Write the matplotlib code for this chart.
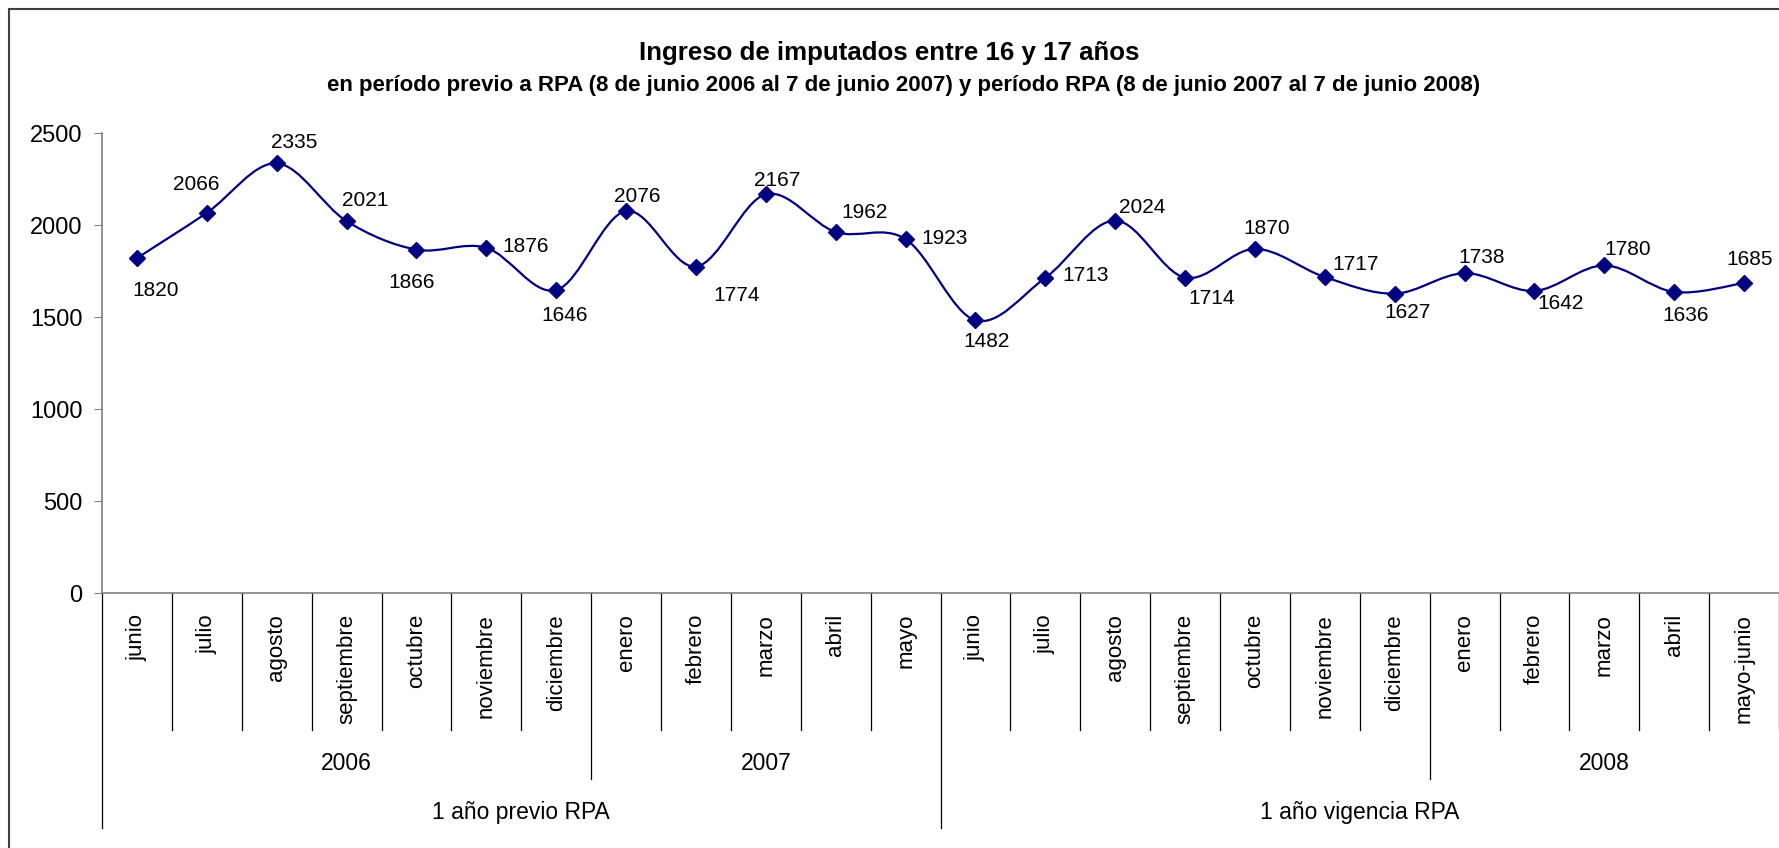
"""
Ingreso de imputados entre 16 y 17 años, previo RPA vs. vigencia RPA.
Line chart with Excel-style smoothing and a three-level category axis.
"""

import matplotlib
matplotlib.use("Agg")
import matplotlib.pyplot as plt
import matplotlib.transforms as mtransforms
from matplotlib.patches import PathPatch, Rectangle
from matplotlib.path import Path
import numpy as np

plt.rcParams["font.family"] = ["Liberation Sans", "DejaVu Sans"]

# --- data -------------------------------------------------------------------
months = [
    "junio", "julio", "agosto", "septiembre", "octubre", "noviembre",
    "diciembre", "enero", "febrero", "marzo", "abril", "mayo",
    "junio", "julio", "agosto", "septiembre", "octubre", "noviembre",
    "diciembre", "enero", "febrero", "marzo", "abril", "mayo-junio",
]
values = [
    1820, 2066, 2335, 2021, 1866, 1876, 1646, 2076, 1774, 2167, 1962, 1923,
    1482, 1713, 2024, 1714, 1870, 1717, 1627, 1738, 1642, 1780, 1636, 1685,
]
# year groups: (label, first index, end index); 2007 jun-dic has no label
year_groups = [("2006", 0, 7), ("2007", 7, 12), ("", 12, 19), ("2008", 19, 24)]
period_groups = [("1 año previo RPA", 0, 12), ("1 año vigencia RPA", 12, 24)]

# label offsets in pixels (dx right, dy up)
label_offsets = [
    (19, -32), (-11, 28), (17, 21), (19, 21), (-5, -33), (39, 1),
    (8, -25), (11, 15), (41, -29), (11, 14), (29, 19), (39, 1),
    (11, -21), (40, 2), (27, 13), (27, -21), (12, 20), (31, 13),
    (13, -19), (17, 16), (26, -13), (23, 16), (11, -24), (6, 23),
]

TITLE = "Ingreso de imputados entre 16 y 17 años"
SUBTITLE = ("en período previo a RPA (8 de junio 2006 al 7 de junio 2007) "
            "y período RPA (8 de junio 2007 al 7 de junio 2008)")

NAVY = "#000080"
GRAY = "#808080"


def smooth_path(x, y):
    """Catmull-Rom style Bezier segments, like Excel's smoothed line."""
    pts = np.column_stack([x, y]).astype(float)
    n = len(pts)
    verts = [pts[0]]
    codes = [Path.MOVETO]
    for i in range(n - 1):
        p0 = pts[max(i - 1, 0)]
        p1 = pts[i]
        p2 = pts[i + 1]
        p3 = pts[min(i + 2, n - 1)]
        verts += [p1 + (p2 - p0) / 6.0, p2 - (p3 - p1) / 6.0, p2]
        codes += [Path.CURVE4] * 3
    return Path(verts, codes)


def main():
    fig = plt.figure(figsize=(17.79, 8.48), dpi=100)
    W, H = 1779, 848
    ax = fig.add_axes([102 / W, 1 - 593 / H, 1 - 102 / W, (593 - 133) / H])

    x = np.arange(len(values)) + 0.5
    ax.add_patch(PathPatch(smooth_path(x, values), facecolor="none",
                           edgecolor=NAVY, lw=1.6, zorder=2))
    ax.plot(x, values, ls="none", marker="D", ms=8, color=NAVY, zorder=3)

    px2pt = 72 / 100
    for xi, v, (dx, dy) in zip(x, values, label_offsets):
        ax.annotate(str(v), (xi, v), xytext=(dx * px2pt, dy * px2pt),
                    textcoords="offset points", ha="center", va="center",
                    fontsize=15)

    ax.set_xlim(0, len(values))
    ax.set_ylim(0, 2500)
    ax.set_yticks(range(0, 2501, 500))
    ax.tick_params(axis="y", labelsize=17, length=6, color=GRAY, pad=8)
    ax.set_xticks([])
    for side in ("top", "right"):
        ax.spines[side].set_visible(False)
    for side in ("left", "bottom"):
        ax.spines[side].set_color(GRAY)
        ax.spines[side].set_linewidth(1.2)

    # multi-level category axis
    trans = mtransforms.blended_transform_factory(ax.transData, ax.transAxes)
    to_ax = lambda ypx: (593 - ypx) / (593 - 133)
    month_bot, year_bot, period_bot = to_ax(730), to_ax(779), to_ax(828)

    year_edges = {s for lab, s, _ in year_groups if lab}
    period_edges = {s for _, s, _ in period_groups}
    for b in range(len(values) + 1):
        if b in period_edges:
            bot = period_bot
        elif b in year_edges or b == 19:
            bot = year_bot
        else:
            bot = month_bot
        ax.plot([b, b], [0, bot], transform=trans, color="black", lw=0.9,
                clip_on=False)

    for xi, m in zip(x, months):
        ax.text(xi, to_ax(614), m, transform=trans, rotation=90, ha="center",
                va="top", fontsize=16)

    for lab, s, e in year_groups:
        if lab:
            ax.text((s + e) / 2, to_ax(763), lab, transform=trans,
                    ha="center", va="center", fontsize=16.5)
    for lab, s, e in period_groups:
        ax.text((s + e) / 2, to_ax(812), lab, transform=trans,
                ha="center", va="center", fontsize=16.5)

    fig.text(0.5, 1 - 53 / H, TITLE, ha="center", va="center",
             fontsize=18.6, fontweight="bold")
    fig.text(0.5 + 14 / W, 1 - 86 / H, SUBTITLE, ha="center", va="center",
             fontsize=16, fontweight="bold")

    # chart-area frame (right and bottom edges fall outside the picture)
    fig.patches.append(Rectangle((9 / W, -0.1), 1.2, 1.1 - 9 / H,
                                 transform=fig.transFigure, fill=False,
                                 edgecolor="#404040", lw=1.5))

    fig.savefig("out.png", dpi=100)
    plt.close(fig)


if __name__ == "__main__":
    main()
